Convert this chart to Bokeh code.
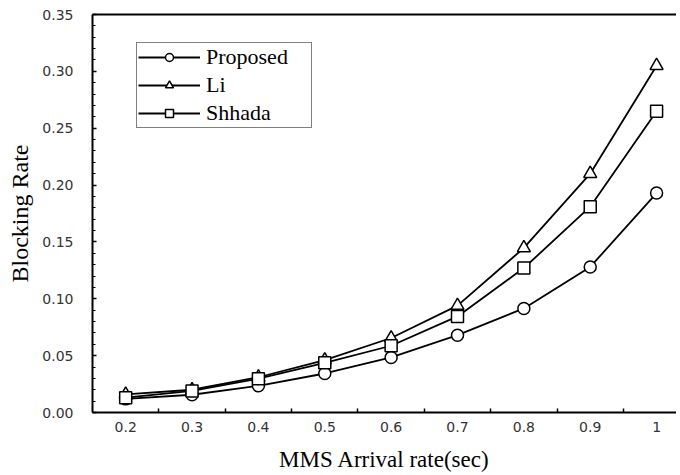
from bokeh.plotting import figure
from bokeh.models import (Range1d, FixedTicker, PrintfTickFormatter,
                          Legend, LegendItem, LinearAxis)
from bokeh.embed import file_html
from bokeh.resources import INLINE

# ---- data ----
arrival_rate = [0.2, 0.3, 0.4, 0.5, 0.6, 0.7, 0.8, 0.9, 1.0]
proposed = [0.012, 0.0156, 0.0235, 0.0343, 0.0484, 0.068, 0.0915, 0.128, 0.193]
li = [0.016, 0.020, 0.031, 0.046, 0.0655, 0.094, 0.1447, 0.210, 0.305]
shhada = [0.013, 0.019, 0.0297, 0.0437, 0.0587, 0.0845, 0.127, 0.181, 0.265]
x_tick_labels = ["0.2", "0.3", "0.4", "0.5", "0.6", "0.7", "0.8", "0.9", "1"]
x_boundaries = [0.25, 0.35, 0.45, 0.55, 0.65, 0.75, 0.85, 0.95]
y_ticks = [0.0, 0.05, 0.10, 0.15, 0.20, 0.25, 0.30, 0.35]
y_minor = [round(0.01 * i, 2) for i in range(36)]
series_names = ["Proposed", "Li", "Shhada"]

SERIF = "Liberation Serif"
SANS = "DejaVu Sans"

p = figure(width=676, height=475, output_backend="svg", toolbar_location=None,
           x_range=Range1d(0.15, 1.03), y_range=Range1d(0, 0.35),
           min_border_left=92, min_border_right=0, min_border_top=14, min_border_bottom=63)
p.outline_line_color = None
p.xgrid.visible = False
p.ygrid.visible = False
p.background_fill_color = "white"
p.border_fill_color = "white"

# x axis
xa = p.xaxis[0]
xa.ticker = FixedTicker(ticks=arrival_rate, minor_ticks=x_boundaries)
xa.major_label_overrides = {v: s for v, s in zip(arrival_rate, x_tick_labels)}
xa.major_tick_in = 0
xa.major_tick_out = 0
xa.minor_tick_in = 4
xa.minor_tick_out = 0
xa.minor_tick_line_width = 1.5
xa.axis_line_width = 2
xa.major_label_standoff = 9
xa.major_label_text_font = SANS
xa.major_label_text_font_size = "14px"
xa.major_label_text_color = "#333333"
xa.axis_label = "MMS Arrival rate(sec)"
xa.axis_label_text_font = SERIF
xa.axis_label_text_font_style = "normal"
xa.axis_label_text_font_size = "23px"
xa.axis_label_text_color = "black"
xa.axis_label_standoff = 12

# y axis
ya = p.yaxis[0]
ya.ticker = FixedTicker(ticks=y_ticks, minor_ticks=y_minor)
ya.formatter = PrintfTickFormatter(format="%.2f")
ya.major_tick_in = 4
ya.major_tick_out = 0
ya.minor_tick_in = 3
ya.minor_tick_out = 0
ya.major_tick_line_width = 1.5
ya.minor_tick_line_width = 1.2
ya.axis_line_width = 2
ya.major_label_standoff = 19
ya.major_label_text_font = SANS
ya.major_label_text_font_size = "14px"
ya.major_label_text_color = "#333333"
ya.axis_label = "Blocking Rate"
ya.axis_label_text_font = SERIF
ya.axis_label_text_font_style = "normal"
ya.axis_label_text_font_size = "24px"
ya.axis_label_text_color = "black"
ya.axis_label_standoff = 6

# top border line as an unlabeled axis
top = LinearAxis(ticker=FixedTicker(ticks=[]), major_label_text_font_size="0px",
                 major_tick_in=0, major_tick_out=0, minor_tick_in=0, minor_tick_out=0,
                 axis_line_width=2, axis_line_color="black")
p.add_layout(top, "above")

items = []
markers = ["circle", "triangle", "square"]
sizes = [12, 13, 12]
for name, ys, mk, sz in zip(series_names, [proposed, li, shhada], markers, sizes):
    r_line = p.line(arrival_rate, ys, line_color="black", line_width=1.8)
    r_mark = p.scatter(arrival_rate, ys, marker=mk, size=sz, fill_color="white",
                       line_color="black", line_width=1.5)
    items.append(LegendItem(label=name, renderers=[r_line, r_mark]))

legend = Legend(items=items, location=(44, 284), padding=1, spacing=2,
                glyph_width=62, glyph_height=20, label_height=20, label_width=104,
                label_standoff=6, label_text_font=SERIF, label_text_font_size="22px",
                label_text_color="black",
                border_line_color="black", border_line_width=1,
                background_fill_color="white", background_fill_alpha=1.0, margin=0)
p.add_layout(legend)

open("out.html", "w").write(file_html(p, INLINE))
